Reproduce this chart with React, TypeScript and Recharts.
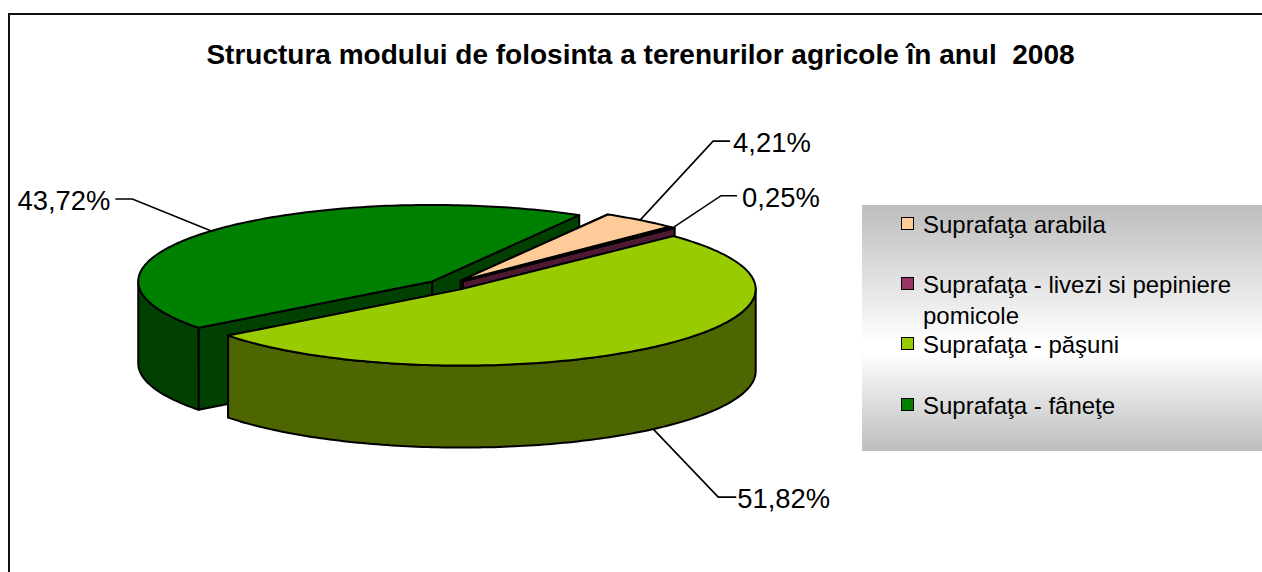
import React from "react";
import { PieChart, Pie, Legend } from "recharts";

const TITLE = "Structura modului de folosinta a terenurilor agricole în anul  2008";
const categories = [
  "Suprafaţa arabila",
  "Suprafaţa - livezi si pepiniere pomicole",
  "Suprafaţa - păşuni",
  "Suprafaţa - fâneţe",
];
const values = [4.21, 0.25, 51.82, 43.72];
const topColors = ["#FFCC99", "#993366", "#99CC00", "#008000"];
const wallColors = ["#80664D", "#4D1933", "#4D6600", "#004000"];

// Painter's order: the back slice is drawn first
const drawOrder = [3, 0, 1, 2];
const table = drawOrder.map((i) => ({
  name: categories[i],
  value: values[i],
  index: i,
}));

const W = 1262;
const H = 572;
const CX = 448;
const CY = 285;
const RADIUS = 294;
const TILT = 0.26;
const DEPTH = 82;
const EXPLODE = 21;
const FONT = "'Liberation Sans', Arial, sans-serif";
// first slice in draw order starts so that the peach slice begins at 60 degrees
const START = 60 + (values[3] / 100) * 360;

// elbow dx, elbow dy, horizontal run, gap to the text
const LABEL_ELBOW: Record<number, [number, number, number, number]> = {
  0: [73, -79, 17, 3],
  1: [48, -32, 16, 5],
  2: [65, 68, 18, 1],
  3: [-79, -32, -17, -5],
};

const rad = (d: number) => (d * Math.PI) / 180;

function centre(cx: number, cy: number, mid: number) {
  return {
    x: cx + EXPLODE * Math.cos(rad(mid)),
    y: cy - EXPLODE * TILT * Math.sin(rad(mid)),
  };
}

function rim(c: { x: number; y: number }, r: number, a: number) {
  return { x: c.x + r * Math.cos(rad(a)), y: c.y - r * TILT * Math.sin(rad(a)) };
}

const SliceShape = (props: any) => {
  const { cx, cy, outerRadius: r, startAngle, endAngle, payload } = props;
  const i = payload.index ?? 0;
  const hi = Math.max(startAngle, endAngle);
  const lo = Math.min(startAngle, endAngle);
  const mid = (hi + lo) / 2;
  const c = centre(cx, cy, mid);
  const angles: number[] = [];
  const n = Math.max(2, Math.ceil((hi - lo) / 1));
  for (let k = 0; k <= n; k++) angles.push(hi - ((hi - lo) * k) / n);
  const pts = angles.map((a) => rim(c, r, a));
  const line = (p: { x: number; y: number }[]) =>
    p.map((q, k) => `${k ? "L" : "M"}${q.x.toFixed(2)} ${q.y.toFixed(2)}`).join("");
  const top = `${line([c, ...pts])}Z`;
  const front = angles.filter((a) => Math.sin(rad(a)) <= 0.001).map((a) => rim(c, r, a));
  const wall = (p: { x: number; y: number }[]) => {
    const down = [...p].reverse().map((q) => ({ x: q.x, y: q.y + DEPTH }));
    return `${line([...p, ...down])}Z`;
  };
  const common = {
    stroke: "#000",
    strokeWidth: 2,
    strokeLinejoin: "round" as const,
  };
  return (
    <g>
      <path d={wall([c, pts[0]])} fill={wallColors[i]} {...common} />
      <path d={wall([c, pts[pts.length - 1]])} fill={wallColors[i]} {...common} />
      {front.length > 1 && <path d={wall(front)} fill={wallColors[i]} {...common} />}
      <path d={top} fill={topColors[i]} {...common} />
    </g>
  );
};

const SliceLabel = (props: any) => {
  const { cx, cy, midAngle, outerRadius: r, payload, value } = props;
  const i = payload.index ?? 0;
  const c = centre(cx, cy, midAngle);
  const p = rim(c, r, midAngle);
  const y0 = Math.sin(rad(midAngle)) < 0 ? p.y + DEPTH : p.y;
  const [dx, dy, run, gap] = LABEL_ELBOW[i];
  const ex = p.x + dx;
  const ey = y0 + dy;
  const end = ex + run;
  const txt = `${value.toFixed(2).replace(".", ",")}%`;
  return (
    <g>
      <polyline
        points={`${p.x},${y0} ${ex},${ey} ${end},${ey}`}
        fill="none"
        stroke="#000"
        strokeWidth={1.6}
      />
      <text
        x={end + gap}
        y={ey + 11}
        textAnchor={run > 0 ? "start" : "end"}
        fontFamily={FONT}
        fontSize={27.4}
        fill="#000"
      >
        {txt}
      </text>
    </g>
  );
};

const LEGEND_ROWS = [4, 64, 124, 185];

const LegendBox = () => (
  <div
    style={{
      position: "relative",
      width: 400,
      height: 246,
      background:
        "linear-gradient(to bottom, #bdbdbd 0%, #ffffff 56%, #ffffff 60%, #bdbdbd 100%)",
      fontFamily: FONT,
      fontSize: 24,
      lineHeight: "31px",
      color: "#000",
    }}
  >
    {categories.map((name, i) => (
      <div
        key={name}
        style={{ position: "absolute", left: 39, top: LEGEND_ROWS[i], width: 345 }}
      >
        <span
          style={{
            position: "absolute",
            left: 0,
            top: 8,
            width: 11,
            height: 11,
            background: topColors[i],
            border: "1.5px solid #000",
          }}
        />
        <div style={{ marginLeft: 22 }}>{name}</div>
      </div>
    ))}
  </div>
);

export default function App() {
  return (
    <div style={{ position: "absolute", left: 0, top: 0, width: W, height: H, overflow: "hidden", background: "#fff" }}>
      <PieChart width={W} height={H} margin={{ top: 0, right: 0, bottom: 0, left: 0 }}>
        <rect x={9} y={14} width={W + 40} height={H + 40} fill="#fff" stroke="#111" strokeWidth={2} />
        <text
          x={640.5}
          y={64}
          textAnchor="middle"
          fontFamily={FONT}
          fontWeight="bold"
          fontSize={28}
          style={{ whiteSpace: "pre" }}
          fill="#000"
        >
          {TITLE}
        </text>
        <Pie
          data={table}
          dataKey="value"
          nameKey="name"
          cx={CX}
          cy={CY}
          innerRadius={0}
          outerRadius={RADIUS}
          startAngle={START}
          endAngle={START - 360}
          paddingAngle={0}
          isAnimationActive={false}
          shape={(p: any) => <SliceShape {...p} />}
          label={(p: any) => <SliceLabel {...p} />}
          labelLine={false}
          rootTabIndex={-1}
        />
        <Legend
          content={() => <LegendBox />}
          wrapperStyle={{ position: "absolute", left: 862, top: 205, width: 400, height: 246, bottom: "auto", margin: 0 }}
        />
      </PieChart>
    </div>
  );
}
